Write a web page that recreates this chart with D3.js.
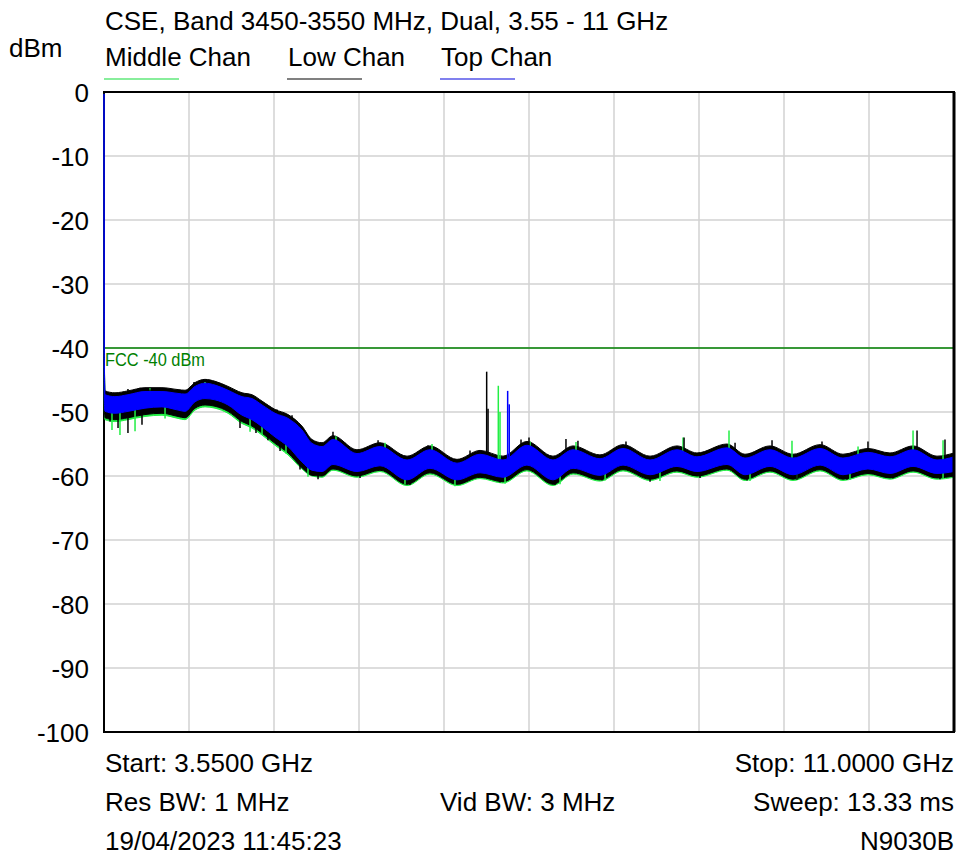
<!DOCTYPE html>
<html>
<head>
<meta charset="utf-8">
<script src="https://cdn.jsdelivr.net/npm/d3@7"></script>
<style>
  body { margin: 0; background: #fff; }
  svg text { font-family: "Liberation Sans", Arial, sans-serif; }
</style>
</head>
<body>
<div id="chart_area"></div>
<script>
// spectrum plot, 3.55 - 11 GHz

var freq = [3.550, 3.553, 3.559, 3.646, 3.760, 3.909, 4.058, 4.199, 4.260, 4.348, 4.435, 4.523, 4.637, 4.760, 4.847, 4.935,
    5.049, 5.163, 5.285, 5.373, 5.461, 5.557, 5.767, 5.969, 6.206, 6.407, 6.644, 6.846, 7.047, 7.257, 7.485, 7.661,
    7.897, 8.099, 8.336, 8.572, 8.747, 9.010, 9.168, 9.387, 9.589, 9.826, 10.027, 10.246, 10.439, 10.641, 10.851, 11.000];

// Top Chan (blue) envelope
var topHi = [-0.3, -42.0, -47.3, -47.6, -47.3, -46.8, -46.8, -47.1, -47.2, -46.0, -45.5, -45.8, -46.6, -47.6, -47.9, -48.9,
    -50.2, -51.0, -52.8, -54.9, -55.4, -54.3, -56.5, -55.4, -57.5, -55.9, -58.0, -56.6, -57.5, -55.2, -57.5, -55.9,
    -57.3, -55.7, -57.5, -55.9, -57.0, -55.6, -57.2, -55.9, -57.2, -55.7, -57.2, -56.3, -57.0, -55.9, -57.5, -57.0];
var topLo = [-36, -48.5, -49.9, -50.2, -49.9, -49.4, -49.2, -49.7, -49.9, -48.4, -47.9, -48.1, -48.9, -50.5, -51.2, -52.3,
    -53.9, -55.4, -57.8, -59.1, -59.3, -58.2, -59.3, -58.4, -60.6, -58.8, -60.6, -59.5, -60.2, -58.3, -60.6, -58.8,
    -59.9, -58.3, -59.8, -58.5, -59.3, -58.2, -59.8, -58.5, -59.8, -58.3, -59.8, -58.9, -59.6, -58.5, -59.6, -59.3];

// Low Chan (black) envelope
var lowHi = [-0.3, -41.4, -46.7, -47.0, -46.7, -46.2, -46.2, -46.5, -46.6, -45.4, -44.9, -45.2, -46.0, -47.0, -47.3, -48.3,
    -49.6, -50.4, -52.2, -54.3, -54.8, -53.7, -55.9, -54.8, -56.9, -55.3, -57.4, -56.0, -56.9, -54.6, -56.9, -55.3,
    -56.7, -55.1, -56.9, -55.3, -56.4, -55.0, -56.6, -55.3, -56.6, -55.1, -56.6, -55.7, -56.4, -55.3, -56.9, -56.4];
var lowLo = [-36, -49.5, -50.9, -51.2, -50.9, -50.4, -50.2, -50.7, -50.9, -49.4, -48.9, -49.1, -49.9, -51.5, -52.2, -53.3,
    -54.9, -56.4, -58.7, -59.9, -60.0, -58.9, -60.0, -59.1, -61.3, -59.5, -61.3, -60.2, -60.9, -59.0, -61.3, -59.5,
    -60.6, -59.0, -60.5, -59.2, -60.0, -58.9, -60.5, -59.2, -60.5, -59.0, -60.5, -59.6, -60.3, -59.2, -60.3, -60.0];

// Middle Chan (green) envelope
var midHi = [-0.3, -41.6, -46.9, -47.2, -46.9, -46.4, -46.4, -46.7, -46.8, -45.6, -45.1, -45.4, -46.2, -47.2, -47.5, -48.5,
    -49.8, -50.6, -52.4, -54.5, -55.0, -53.9, -56.1, -55.0, -57.1, -55.5, -57.6, -56.2, -57.1, -54.8, -57.1, -55.5,
    -56.9, -55.3, -57.1, -55.5, -56.6, -55.2, -56.8, -55.5, -56.8, -55.3, -56.8, -55.9, -56.6, -55.5, -57.1, -56.6];
var midLo = [-36, -49.8, -51.2, -51.5, -51.2, -50.7, -50.5, -51.0, -51.2, -49.7, -49.2, -49.4, -50.2, -51.8, -52.5, -53.6,
    -55.2, -56.7, -58.9, -60.0, -60.2, -59.1, -60.2, -59.3, -61.5, -59.7, -61.5, -60.4, -61.1, -59.2, -61.5, -59.7,
    -60.8, -59.2, -60.7, -59.4, -60.2, -59.1, -60.7, -59.4, -60.7, -59.2, -60.7, -59.8, -60.5, -59.4, -60.5, -60.2];

// single spikes [GHz, dBm]
var lowSpikes = [[3.760, -46.4], [3.866, -46.2], [3.953, -46.5], [4.058, -46.4], [4.260, -47.0], [4.339, -45.3],
    [4.391, -45.2], [4.654, -46.3], [4.812, -47.4], [5.066, -49.6], [5.198, -50.5], [5.557, -53.1], [5.662, -54.8],
    [5.952, -54.4], [6.390, -55.2], [6.758, -56.0], [7.205, -54.3], [7.275, -54.0], [7.599, -54.2], [7.704, -54.5],
    [8.125, -54.6], [8.634, -54.0], [9.081, -54.8], [9.405, -54.4], [9.843, -54.6], [10.246, -54.6], [10.676, -52.9],
    [10.921, -54.3],
    [3.603, -51.5], [3.673, -52.5], [3.760, -53.3], [3.883, -52.0], [4.216, -50.5], [4.742, -52.5], [4.882, -53.3],
    [4.987, -54.4], [5.093, -56.1], [5.268, -59.0], [5.426, -60.5], [5.794, -60.3], [6.232, -61.4], [6.670, -61.3],
    [7.021, -61.0], [7.503, -61.4], [7.915, -60.7], [8.336, -60.9], [8.774, -60.3], [9.186, -60.7], [9.624, -60.6],
    [10.062, -60.6], [10.465, -60.4], [10.877, -60.5],
    [6.904, -43.7], [6.916, -49.5]];
var midSpikes = [[3.953, -46.3], [4.435, -45.3], [5.583, -53.8], [6.013, -54.8], [6.425, -55.0], [7.284, -54.6],
    [7.687, -54.7], [8.625, -54.0], [9.028, -52.9], [9.580, -54.5], [10.159, -55.4], [10.641, -52.9], [10.904, -54.4],
    [3.620, -52.8], [3.690, -53.6], [3.822, -53.0], [4.085, -51.0], [4.830, -53.1], [4.935, -53.5], [5.145, -56.5],
    [5.338, -60.1], [6.188, -61.3], [6.626, -61.6], [7.065, -61.2], [7.547, -61.3], [7.942, -60.7], [8.423, -60.8],
    [9.212, -60.8], [9.624, -60.5], [10.088, -60.6], [10.904, -60.3],
    [7.006, -45.9], [7.021, -50.0]];
var topSpikes = [[7.088, -46.7], [7.102, -48.8]];

var fccLimit = -40;
var yTicks = [0, -10, -20, -30, -40, -50, -60, -70, -80, -90, -100];

var legendNames = ["Middle Chan", "Low Chan", "Top Chan"];
var legendCols = ["#88ee9c", "#808080", "#8080ee"];
var traceCols = ["#22ee44", "#000000", "#0000ff"];

var margin = {top: 92, right: 6, bottom: 125, left: 104},
    width = 960 - margin.left - margin.right,
    height = 857 - margin.top - margin.bottom;

var svg = d3.select("#chart_area").append("svg")
    .attr("width", 960)
    .attr("height", 857);

var g = svg.append("g")
    .attr("transform", "translate(" + margin.left + "," + margin.top + ")");

var x = d3.scaleLinear().domain([3.55, 11]).range([0, width]);
var y = d3.scaleLinear().domain([-100, 0]).range([height, 0]);

// grid
var xGrid = d3.range(1, 10).map(function(i) { return 3.55 + i * 0.745; });
g.append("g").selectAll("line")
    .data(xGrid)
    .enter().append("line")
    .attr("x1", function(d) { return x(d); })
    .attr("x2", function(d) { return x(d); })
    .attr("y1", 0).attr("y2", height)
    .attr("stroke", "#d2d2d2").attr("stroke-width", 1.5);

g.append("g").selectAll("line")
    .data(yTicks.slice(1, -1))
    .enter().append("line")
    .attr("x1", 0).attr("x2", width)
    .attr("y1", function(d) { return y(d); })
    .attr("y2", function(d) { return y(d); })
    .attr("stroke", "#d2d2d2").attr("stroke-width", 1.5);

// y axis labels
var yAxis = g.append("g")
    .attr("transform", "translate(-15,0)")
    .call(d3.axisLeft(y).tickValues(yTicks).tickSize(0).tickPadding(0)
        .tickFormat(function(d) { return String(d); }));
yAxis.select(".domain").remove();
yAxis.selectAll("text")
    .attr("font-size", 26)
    .attr("font-family", "Liberation Sans, Arial, sans-serif")
    .attr("fill", "#000")
    .attr("dy", "0.36em");

// frame
g.append("rect")
    .attr("width", width).attr("height", height)
    .attr("fill", "none")
    .attr("stroke", "#000").attr("stroke-width", 2);

// limit line
g.append("line")
    .attr("x1", 0).attr("x2", width)
    .attr("y1", y(fccLimit)).attr("y2", y(fccLimit))
    .attr("stroke", "#008000").attr("stroke-width", 1.5);

// traces
var bands = [
    {hi: midHi, lo: midLo, col: traceCols[0]},
    {hi: lowHi, lo: lowLo, col: traceCols[1]},
    {hi: topHi, lo: topLo, col: traceCols[2]}
];
var spikes = [midSpikes, lowSpikes, topSpikes];

var area = d3.area()
    .curve(d3.curveMonotoneX)
    .x(function(d) { return x(d.f); })
    .y0(function(d) { return y(d.lo); })
    .y1(function(d) { return y(d.hi); });

var bis = d3.bisector(function(d) { return d; }).left;
function bandMid(f) {
    var i = Math.max(1, Math.min(freq.length - 1, bis(freq, f)));
    var t = (f - freq[i - 1]) / (freq[i] - freq[i - 1]);
    var m0 = (topHi[i - 1] + topLo[i - 1]) / 2, m1 = (topHi[i] + topLo[i]) / 2;
    return m0 + (m1 - m0) * t;
}

function drawSpikes(sel, data, col) {
    sel.append("g").selectAll("line")
        .data(data)
        .enter().append("line")
        .attr("x1", function(d) { return x(d[0]); })
        .attr("x2", function(d) { return x(d[0]); })
        .attr("y1", function(d) { return y(d[1]); })
        .attr("y2", function(d) { return y(bandMid(d[0])); })
        .attr("stroke", col)
        .attr("stroke-width", 1.5);
}

var traces = g.append("g").attr("class", "traces");

bands.forEach(function(b, k) {
    var pts = freq.map(function(f, i) { return {f: f, hi: b.hi[i], lo: b.lo[i]}; });
    if (k == 2) {
        // spikes of the other two go under the blue trace
        drawSpikes(traces, spikes[0], traceCols[0]);
        drawSpikes(traces, spikes[1], traceCols[1]);
    }
    traces.append("path")
        .datum(pts)
        .attr("d", area)
        .attr("fill", b.col)
        .attr("stroke", b.col)
        .attr("stroke-width", 1);
});
drawSpikes(traces, topSpikes, traceCols[2]);

g.append("line")
    .attr("x1", width).attr("x2", width)
    .attr("y1", 0).attr("y2", height)
    .attr("stroke", "#000").attr("stroke-width", 3);

g.append("text")
    .attr("x", 1)
    .attr("y", y(fccLimit) + 18)
    .attr("font-size", 18.5)
    .attr("textLength", 100)
    .attr("lengthAdjust", "spacingAndGlyphs")
    .attr("fill", "#008000")
    .text("FCC -40 dBm");

// header
svg.append("text").attr("x", 105).attr("y", 30).attr("font-size", 26)
    .text("CSE, Band 3450-3550 MHz, Dual, 3.55 - 11 GHz");
svg.append("text").attr("x", 9).attr("y", 57).attr("font-size", 26)
    .text("dBm");

var legX = [105, 288, 441];
var leg = svg.append("g").selectAll("g")
    .data(legendNames)
    .enter().append("g");
leg.append("text")
    .attr("x", function(d, i) { return legX[i]; })
    .attr("y", 66)
    .attr("font-size", 26)
    .text(function(d) { return d; });
leg.append("line")
    .attr("x1", function(d, i) { return legX[i] - 1; })
    .attr("x2", function(d, i) { return legX[i] + 74; })
    .attr("y1", 79).attr("y2", 79)
    .attr("stroke", function(d, i) { return legendCols[i]; })
    .attr("stroke-width", 2);

// footer
var footer = [
    {t: "Start: 3.5500 GHz", x: 105, y: 772, a: "start"},
    {t: "Stop: 11.0000 GHz", x: 954, y: 772, a: "end"},
    {t: "Res BW: 1 MHz", x: 105, y: 811, a: "start"},
    {t: "Vid BW: 3 MHz", x: 440, y: 811, a: "start"},
    {t: "Sweep: 13.33 ms", x: 954, y: 811, a: "end"},
    {t: "19/04/2023 11:45:23", x: 105, y: 850, a: "start"},
    {t: "N9030B", x: 954, y: 850, a: "end"}
];
svg.append("g").selectAll("text")
    .data(footer)
    .enter().append("text")
    .attr("x", function(d) { return d.x; })
    .attr("y", function(d) { return d.y; })
    .attr("text-anchor", function(d) { return d.a; })
    .attr("font-size", 26)
    .text(function(d) { return d.t; });
</script>
</body>
</html>
